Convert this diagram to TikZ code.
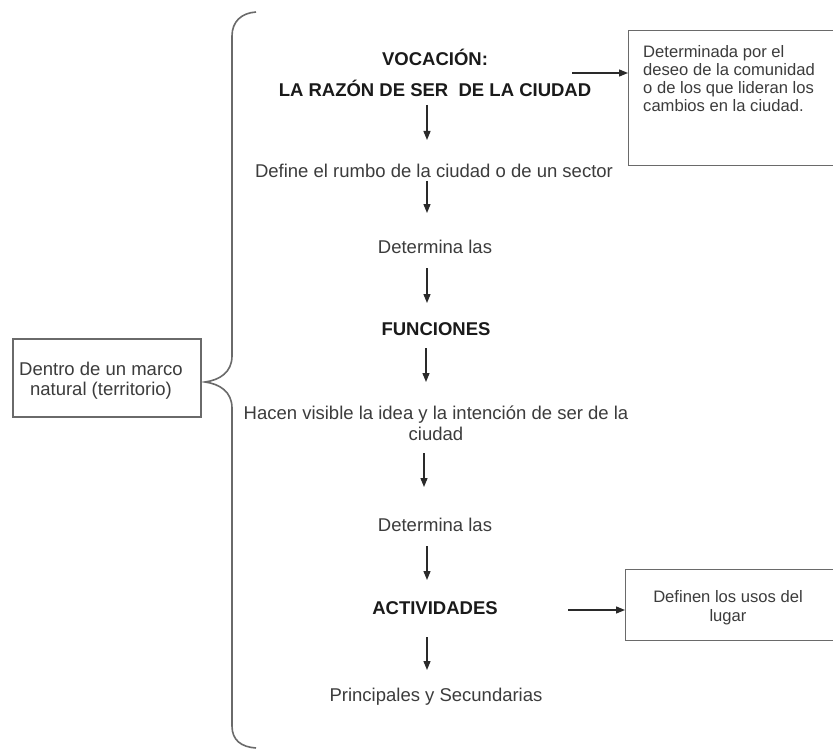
\documentclass[tikz,border=0pt]{standalone}
\usepackage{fontspec}
\setmainfont{Liberation Sans}
\usetikzlibrary{arrows.meta,calc}
\definecolor{txt}{HTML}{3C3C3C}
\definecolor{bld}{HTML}{1A1A1A}
\definecolor{ln}{HTML}{2A2A2A}
\definecolor{bx}{HTML}{6A6A6A}
\begin{document}
\begin{tikzpicture}[x=1pt,y=-1pt,
  maintxt/.style={inner sep=0pt,anchor=base,text=txt,font=\fontsize{18.5}{21}\selectfont},
  boldtxt/.style={inner sep=0pt,anchor=base,text=bld,font=\fontsize{18.5}{21}\selectfont\bfseries},
  smalltxt/.style={inner sep=0pt,text=txt,font=\fontsize{16.6}{18}\selectfont},
  boxshape/.style={draw=bx,line width=1.4pt,inner sep=0pt},
  arr/.style={draw=ln,line width=1.3pt,-{Triangle[length=9pt,width=7pt]}},
  bracestyle/.style={draw=bx,line width=1.6pt}]
\useasboundingbox (0,0) rectangle (833,749);
\fill[white] (0,0) rectangle (833,749);

% brace
\draw[bracestyle] (256,12) .. controls (241,13) and (232,22) .. (232,36)
  -- (232,356) .. controls (232,372) and (220,380) .. (205,382)
  .. controls (220,384) and (232,392) .. (232,408)
  -- (232,726) .. controls (232,740) and (241,747) .. (256,748);

% left box
\node[boxshape,minimum width=188pt,minimum height=78pt] (marco) at (107,378) {};
\node[smalltxt,font=\fontsize{18.5}{20}\selectfont,align=center,anchor=north] (marcotxt) at (101,362) {Dentro de un marco\\natural (territorio)};

% main column
\node[boldtxt] (voc) at (435,66) {VOCACIÓN:};
\node[boldtxt] (razon) at (435,97) {LA RAZÓN DE SER \ DE LA CIUDAD};
\node[maintxt] (define) at (434,178) {Define el rumbo de la ciudad o de un sector};
\node[maintxt] (det1) at (435,253) {Determina las};
\node[boldtxt] (fun) at (436,335) {FUNCIONES};
\node[maintxt] (hacen) at (436,419) {Hacen visible la idea y la intención de ser de la};
\node[maintxt] (ciudad) at (436,440) {ciudad};
\node[maintxt] (det2) at (435,531) {Determina las};
\node[boldtxt] (act) at (435,614) {ACTIVIDADES};
\node[maintxt] (prin) at (436,701) {Principales y Secundarias};

% vertical arrows
\draw[arr] ($(razon.base)+(-8,8)$) -- ($(define.base)+(-7,-38)$);
\draw[arr] ($(define.base)+(-7,3)$) -- ($(det1.base)+(-8,-40)$);
\draw[arr] ($(det1.base)+(-8,15)$) -- ($(fun.base)+(-9,-32)$);
\draw[arr] ($(fun.base)+(-10,13)$) -- ($(hacen.base)+(-10,-37)$);
\draw[arr] ($(ciudad.base)+(-12,13)$) -- ($(det2.base)+(-11,-44)$);
\draw[arr] ($(det2.base)+(-8,15)$) -- ($(act.base)+(-8,-34)$);
\draw[arr] ($(act.base)+(-8,23)$) -- ($(prin.base)+(-9,-31)$);

% top right box
\node[boxshape,minimum width=210pt,minimum height=135pt,anchor=north west] (box1) at (628,30) {};
\node[smalltxt,align=left,anchor=north west] (box1txt) at (643,45)
  {Determinada por el\\deseo de la comunidad\\o de los que lideran los\\cambios en la ciudad.};
\coordinate (a1) at (572,73);
\draw[arr] (a1) -- (box1.west |- a1);

% bottom right box
\node[boxshape,minimum width=215pt,minimum height=71pt,anchor=north west] (box2) at (625,569) {};
\node[smalltxt,font=\fontsize{16.6}{19}\selectfont,align=center,anchor=north] (box2txt) at (728,590)
  {Definen los usos del\\lugar};
\coordinate (a2) at (568,610);
\draw[arr] (a2) -- (box2.west |- a2);
\end{tikzpicture}
\end{document}
